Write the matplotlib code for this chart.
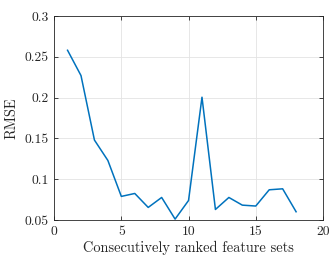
import matplotlib.pyplot as plt

plt.rcParams['font.family'] = 'serif'
plt.rcParams['font.serif'] = ['cmr10', 'DejaVu Serif']
plt.rcParams['mathtext.fontset'] = 'cm'
plt.rcParams['axes.formatter.use_mathtext'] = True

sets = list(range(1, 19))
rmse = [0.258, 0.227, 0.148, 0.123, 0.079, 0.0826, 0.0655, 0.0777, 0.0512,
        0.074, 0.2005, 0.063, 0.0777, 0.0683, 0.0672, 0.0871, 0.0883, 0.0602]

xticks = [0, 5, 10, 15, 20]
yticks = [0.05, 0.1, 0.15, 0.2, 0.25, 0.3]
ytick_labels = ['0.05', '0.1', '0.15', '0.2', '0.25', '0.3']

fig = plt.figure(figsize=(3.34, 2.62), dpi=100)
ax = fig.add_axes([0.162, 0.16, 0.805, 0.779])

ax.plot(sets, rmse, color='#0072BD', linewidth=1.1)

ax.set_xlim(0, 20)
ax.set_ylim(0.05, 0.3)
ax.set_xticks(xticks)
ax.set_xticklabels([str(t) for t in xticks])
ax.set_yticks(yticks)
ax.set_yticklabels(ytick_labels)

ax.grid(True, color='#e3e3e3', linewidth=0.6)
ax.set_axisbelow(True)
ax.tick_params(direction='in', length=3, width=0.6, colors='#262626',
               labelsize=9.8, top=True, right=True, pad=4)
for s in ax.spines.values():
    s.set_color('#262626')
    s.set_linewidth(0.6)

ax.set_xlabel('Consecutively ranked feature sets', fontsize=10.4, color='#262626', labelpad=2)
ax.set_ylabel('RMSE', fontsize=10.4, color='#262626', labelpad=4)

fig.savefig('out.png', dpi=100)
